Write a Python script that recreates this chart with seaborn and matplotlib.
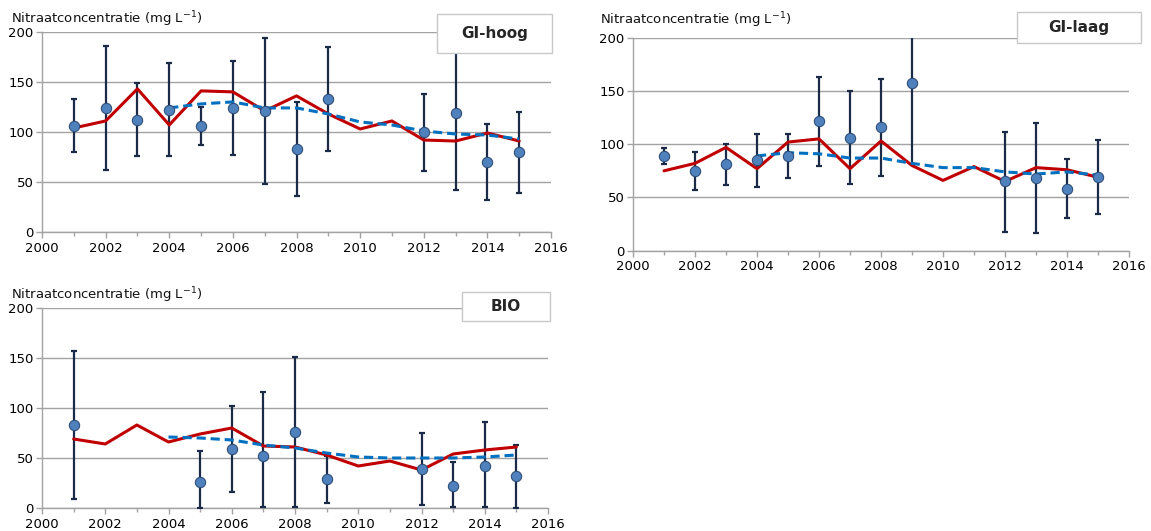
import numpy as np
import pandas as pd
import matplotlib
matplotlib.use("Agg")
import matplotlib.pyplot as plt
import seaborn as sns

years = list(range(2001, 2016))
nan = np.nan

# GI-hoog
hoog_mean = [106, 124, 112, 122, 106, 124, 121, 83, 133, nan, nan, 100, 119, 70, 80]
hoog_low = [80, 62, 76, 76, 87, 77, 48, 36, 81, nan, nan, 61, 42, 32, 39]
hoog_high = [133, 186, 149, 169, 125, 171, 194, 130, 185, nan, nan, 138, 200, 108, 120]
hoog_line = [104, 111, 143, 107, 141, 140, 121, 136, 118, 103, 111, 92, 91, 99, 91]
hoog_trend = [nan, nan, nan, 124, 128, 130, 124, 124, 118, 110, 107, 101, 98, 97, 93]

# GI-laag
laag_mean = [89, 75, 81, 85, 89, 122, 106, 116, 157, nan, nan, 65, 68, 58, 69]
laag_low = [81, 57, 62, 60, 68, 80, 63, 70, 81, nan, nan, 18, 17, 31, 34]
laag_high = [96, 93, 100, 110, 110, 163, 150, 161, 215, nan, nan, 111, 120, 86, 104]
laag_line = [75, 82, 97, 77, 102, 105, 77, 103, 80, 66, 79, 65, 78, 76, 69]
laag_trend = [nan, nan, nan, 89, 92, 91, 87, 87, 82, 78, 78, 74, 72, 74, 71]

# BIO
bio_mean = [83, nan, nan, nan, 26, 59, 52, 76, 29, nan, nan, 39, 22, 42, 32]
bio_low = [9, nan, nan, nan, 0, 16, 1, 1, 5, nan, nan, 3, 1, 1, 0]
bio_high = [157, nan, nan, nan, 57, 102, 116, 151, 52, nan, nan, 75, 46, 86, 63]
bio_line = [69, 64, 83, 66, 74, 80, 62, 61, 53, 42, 47, 38, 54, 58, 61]
bio_trend = [nan, nan, nan, 71, 70, 68, 63, 60, 55, 51, 50, 50, 50, 51, 53]

panels = [
    ("GI-hoog", hoog_mean, hoog_low, hoog_high, hoog_line, hoog_trend),
    ("GI-laag", laag_mean, laag_low, laag_high, laag_line, laag_trend),
    ("BIO", bio_mean, bio_low, bio_high, bio_line, bio_trend),
]

sns.set_theme(style="white")
plt.rcParams['font.family'] = ['DejaVu Sans']
plt.rcParams['mathtext.fontset'] = 'dejavusans'

fig = plt.figure(figsize=(11.51, 5.31), dpi=100)
px = lambda x: x / 1151
py = lambda y: 1 - y / 531

# axes rect: left, bottom, width, height (pixels -> fractions)
rects = [
    (42, 232.3, 509, 200.6),
    (633, 250.7, 496, 213),
    (42, 508, 506, 200),
]
boxes = [
    (437, 14, 552, 52.7),
    (1017, 11.7, 1141, 42.7),
    (462, 291.7, 550, 320.7),
]
ylabels = [(11, 19), (600, 20), (11, 295)]

grid_c = "#a3a3a3"
red = "#c00000"
blue = "#0070c0"
navy = "#1b2a47"
dot = "#4f81bd"

for (name, mean, low, high, line, trend), (l, b, w, h), (bx0, by0, bx1, by1), (tx, ty) in zip(panels, rects, boxes, ylabels):
    ax = fig.add_axes([px(l), py(b), px(w), h / 531])
    df = pd.DataFrame({"year": years, "mean": mean, "low": low, "high": high,
                       "line": line, "trend": trend})
    d = df.dropna(subset=["mean"])
    ax.errorbar(d["year"], d["mean"], yerr=[d["mean"] - d["low"], d["high"] - d["mean"]],
                fmt="none", ecolor=navy, elinewidth=1.6, capsize=2.5, capthick=1.6, zorder=3)
    sns.lineplot(data=df, x="year", y="line", ax=ax, color=red, linewidth=2.2, zorder=4)
    dt = df.dropna(subset=["trend"])
    sns.lineplot(data=dt, x="year", y="trend", ax=ax, color=blue, linewidth=2.2,
                 linestyle=(0, (3, 1.6)), zorder=5)
    sns.scatterplot(data=d, x="year", y="mean", ax=ax, s=55, color=dot,
                    edgecolor="#2f4f7a", linewidth=0.8, zorder=6)

    ax.set_xlim(2000, 2016)
    ax.set_ylim(0, 200)
    ax.set_xticks(range(2000, 2017, 2))
    ax.set_xticks(range(2000, 2017, 1), minor=True)
    ax.set_yticks(range(0, 201, 50))
    ax.yaxis.grid(True, color=grid_c, linewidth=1.0)
    ax.set_axisbelow(True)
    for s in ["top", "right"]:
        ax.spines[s].set_visible(False)
    for s in ["left", "bottom"]:
        ax.spines[s].set_color(grid_c)
        ax.spines[s].set_linewidth(1.0)
    ax.tick_params(axis="both", which="major", length=4, width=1, color=grid_c,
                   labelsize=9.5, labelcolor="black", pad=2, direction="out")
    ax.tick_params(axis="x", which="minor", length=3, width=1, color=grid_c, direction="out")
    ax.tick_params(axis="x", which="major", pad=3)
    ax.tick_params(left=True, bottom=True)
    ax.tick_params(axis="x", which="minor", bottom=True)
    ax.set_xlabel("")
    ax.set_ylabel("")
    if ax.get_legend():
        ax.get_legend().remove()

    fig.text(px(tx), py(ty), r"Nitraatconcentratie (mg L$^{-1}$)", fontsize=9.5,
             ha="left", va="center", color="#111111")
    fig.patches.append(plt.Rectangle((px(bx0), py(by1)), px(bx1 - bx0), (by1 - by0) / 531,
                                     transform=fig.transFigure, facecolor="white",
                                     edgecolor="#c8c8c8", linewidth=1.0, zorder=10))
    fig.text(px((bx0 + bx1) / 2), py((by0 + by1) / 2), name, fontsize=11, fontweight="bold",
             ha="center", va="center", zorder=11)

fig.savefig("out.png", dpi=100)
